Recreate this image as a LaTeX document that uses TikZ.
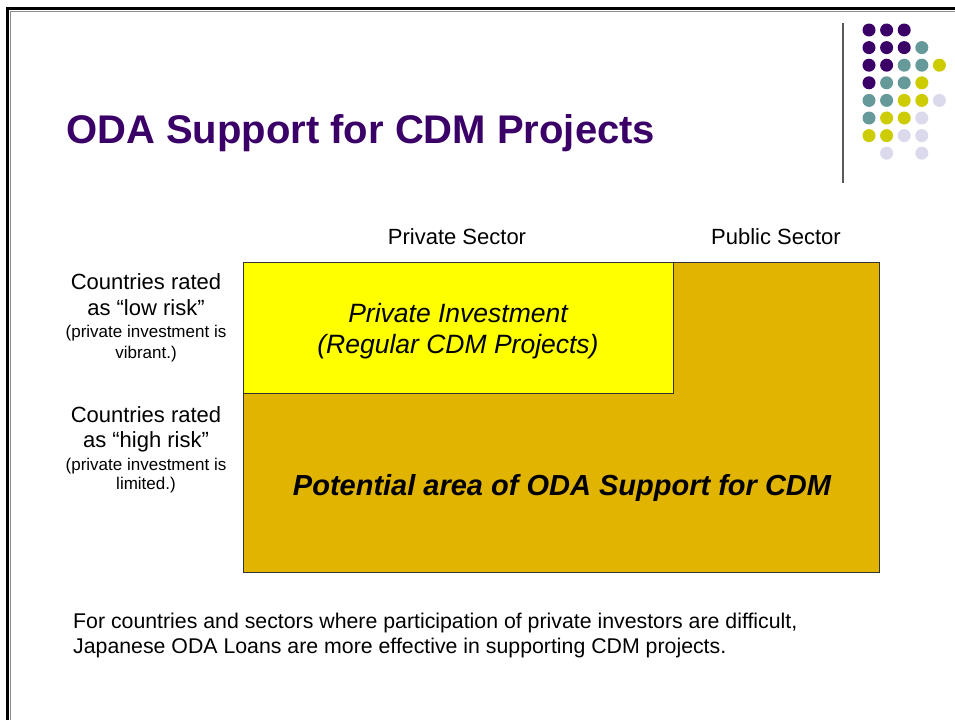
\documentclass[tikz,border=0pt]{standalone}
\usepackage{fontspec}
\setmainfont{Liberation Sans}
\definecolor{titlepurple}{HTML}{3A0068}
\definecolor{dotpurple}{HTML}{3B0068}
\definecolor{dotteal}{HTML}{669A9A}
\definecolor{dotyellow}{HTML}{CCCC00}
\definecolor{dotlav}{HTML}{DADAEC}
\definecolor{boxyellow}{HTML}{FFFF00}
\definecolor{boxgold}{HTML}{E0B400}
\begin{document}
\begin{tikzpicture}[x=1pt,y=-1pt,
  region/.style={draw=black!80,line width=0.8pt,rectangle,inner sep=0pt},
  lbl/.style={anchor=base,inner sep=0pt,font=\fontsize{22}{26}\selectfont},
  small/.style={anchor=base,inner sep=0pt,font=\fontsize{17}{20}\selectfont},
  dot/.style={circle,inner sep=0pt,minimum size=13pt}]
\useasboundingbox (0,0) rectangle (955,720);
\fill[white] (0,0) rectangle (955,720);
% frame
\draw[black!45,line width=1pt] (10,720) -- (10,11) -- (955,11);
\draw[black,line width=3pt] (7.5,720) -- (7.5,8.5) -- (955,8.5);
% decoration
\draw[black!65,line width=1.3pt] (843,23) -- (843,183);
\foreach \r/\i/\col in {
  0/0/dotpurple,0/1/dotpurple,0/2/dotpurple,
  1/0/dotpurple,1/1/dotpurple,1/2/dotpurple,1/3/dotteal,
  2/0/dotpurple,2/1/dotpurple,2/2/dotteal,2/3/dotteal,2/4/dotyellow,
  3/0/dotpurple,3/1/dotteal,3/2/dotteal,3/3/dotyellow,
  4/0/dotteal,4/1/dotteal,4/2/dotyellow,4/3/dotyellow,4/4/dotlav,
  5/0/dotteal,5/1/dotyellow,5/2/dotyellow,5/3/dotlav,
  6/0/dotyellow,6/1/dotyellow,6/2/dotlav,6/3/dotlav,
  7/1/dotlav,7/3/dotlav}{
  \node[dot,fill=\col] (d\r\i) at ({869+17.6*\i},{30+17.6*\r}) {};
}
% title
\node[anchor=base west,inner sep=0pt,text=titlepurple,font=\fontsize{40}{44}\selectfont\bfseries] (title) at (66,143) {ODA Support for CDM Projects};
% column headers
\node[lbl] (priv) at (457,244) {Private Sector};
\node[lbl] (pub) at (776,244) {Public Sector};
% regions
\node[region,fill=boxgold,minimum width=636pt,minimum height=310pt] (oda) at (561,417) {};
\node[region,fill=boxyellow,minimum width=430pt,minimum height=131pt] (pi) at (458,327.5) {};
\node[anchor=base,inner sep=0pt,font=\fontsize{26.5}{30}\selectfont\itshape] (pit1) at (458,322) {Private Investment};
\node[anchor=base,inner sep=0pt,font=\fontsize{26.5}{30}\selectfont\itshape] (pit2) at (458,353) {(Regular CDM Projects)};
\node[anchor=base,inner sep=0pt,font=\fontsize{29}{33}\selectfont\bfseries\itshape] (odat) at (562,495) {Potential area of ODA Support for CDM};
% row labels
\node[lbl] (l1) at (146,289) {Countries rated};
\node[lbl] (l2) at (146,315) {as “low risk”};
\node[small] (l3) at (146,337) {(private investment is};
\node[small] (l4) at (146,358) {vibrant.)};
\node[lbl] (h1) at (146,422) {Countries rated};
\node[lbl] (h2) at (146,447) {as “high risk”};
\node[small] (h3) at (146,470) {(private investment is};
\node[small] (h4) at (146,489) {limited.)};
% bottom note
\node[anchor=base west,inner sep=0pt,font=\fontsize{21.3}{25}\selectfont] (n1) at (73,628) {For countries and sectors where participation of private investors are difficult,};
\node[anchor=base west,inner sep=0pt,font=\fontsize{21.3}{25}\selectfont] (n2) at (73,653) {Japanese ODA Loans are more effective in supporting CDM projects.};
\end{tikzpicture}
\end{document}
